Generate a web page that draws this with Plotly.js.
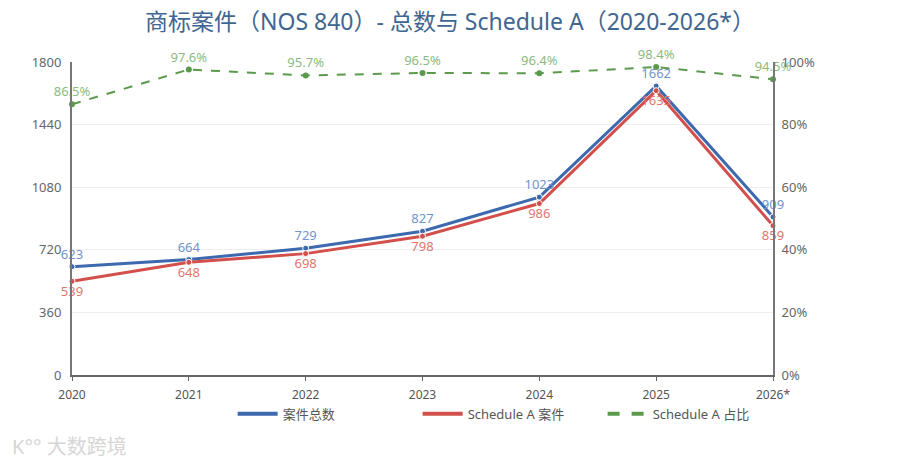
<!DOCTYPE html>
<html>
<head>
<meta charset="utf-8">
<script src="https://cdn.plot.ly/plotly-3.0.1.min.js"></script>
<style>
  html, body { margin: 0; padding: 0; background: #fff; }
  #plot { width: 900px; height: 465px; }
</style>
</head>
<body>
<div id="plot"></div>
<script>
// data
var years = ['2020', '2021', '2022', '2023', '2024', '2025', '2026*'];
var totalCases = [623, 664, 729, 827, 1023, 1662, 909];
var scheduleACases = [539, 648, 698, 798, 986, 1635, 859];
var scheduleAShare = [86.5, 97.6, 95.7, 96.5, 96.4, 98.4, 94.5];

var leftTicks = [0, 360, 720, 1080, 1440, 1800];
var rightTicks = [0, 20, 40, 60, 80, 100];

var fontFamily = '"Noto Sans", "Noto Sans CJK SC", sans-serif';

var blue = '#3d69ae', red = '#d24f4b', green = '#5b9a4d';

// blue - total
var traceTotal = {
  x: years,
  y: totalCases,
  text: totalCases.map(String),
  name: '案件总数',
  showlegend: false,
  type: 'scatter',
  mode: 'lines+markers+text',
  textposition: 'top center',
  textfont: { color: '#7094cc', size: 13, family: fontFamily },
  cliponaxis: false,
  line: { color: blue, width: 3 },
  marker: { color: blue, size: 6, line: { color: '#fff', width: 1 } }
};

// red - schedule A
var traceSchedA = {
  x: years,
  y: scheduleACases,
  text: scheduleACases.map(String),
  name: 'Schedule A 案件',
  showlegend: false,
  type: 'scatter',
  mode: 'lines+markers+text',
  textposition: 'bottom center',
  textfont: { color: '#e0766e', size: 13, family: fontFamily },
  cliponaxis: false,
  line: { color: red, width: 3 },
  marker: { color: red, size: 6, line: { color: '#fff', width: 1 } }
};

// green dashed - share, right axis
var traceShare = {
  x: years,
  y: scheduleAShare,
  text: scheduleAShare.map(v => v.toFixed(1) + '%'),
  name: 'Schedule A 占比',
  showlegend: false,
  type: 'scatter',
  mode: 'lines+markers+text',
  textposition: 'top center',
  textfont: { color: '#8bbb7e', size: 13, family: fontFamily },
  cliponaxis: false,
  yaxis: 'y2',
  line: { color: green, width: 2, dash: 'dash' },
  marker: { color: green, size: 6 }
};

// legend entries (lines only, like the reference)
function legendEntry(name, color, dash, axis) {
  return {
    x: [null], y: [null], name: name, type: 'scatter', mode: 'lines',
    yaxis: axis, hoverinfo: 'skip',
    line: { color: color, width: 4, dash: dash }
  };
}

var traces = [traceTotal, traceSchedA, traceShare,
  legendEntry('案件总数', blue, 'solid', 'y'),
  legendEntry('Schedule A 案件', red, 'solid', 'y'),
  legendEntry('Schedule A 占比', green, 'dash', 'y2')];

var layout = {
  width: 900,
  height: 465,
  paper_bgcolor: '#ffffff',
  plot_bgcolor: '#ffffff',
  margin: { l: 72, r: 127, t: 62, b: 90 },
  font: { family: fontFamily, color: '#666', size: 12 },
  title: {
    text: '商标案件（NOS 840）- 总数与 Schedule A（2020-2026*）',
    font: { family: fontFamily, size: 23, color: '#3f6690' },
    x: 0.5,
    xanchor: 'center',
    y: 0.953,
    yanchor: 'middle'
  },
  showlegend: true,
  legend: {
    orientation: 'h',
    x: 0.625,
    xanchor: 'center',
    y: -0.124,
    yanchor: 'middle',
    entrywidth: 130,
    entrywidthmode: 'pixels',
    bgcolor: 'rgba(0,0,0,0)',
    font: { size: 13, color: '#555', family: fontFamily },
    itemwidth: 40
  },
  xaxis: {
    type: 'category',
    range: [0, 6],
    showgrid: false,
    showline: true,
    linecolor: '#666',
    linewidth: 1.5,
    ticks: 'outside',
    ticklen: 4,
    tickcolor: '#666',
    ticklabelstandoff: 4,
    tickfont: { size: 12, color: '#555' },
    zeroline: false
  },
  yaxis: {
    range: [0, 1800],
    tickvals: leftTicks,
    ticktext: leftTicks.map(String),
    showgrid: true,
    gridcolor: '#eeeeee',
    showline: true,
    linecolor: '#777',
    linewidth: 2,
    zeroline: false,
    ticks: '',
    ticklabelstandoff: 6,
    tickfont: { size: 13, color: '#666' }
  },
  yaxis2: {
    overlaying: 'y',
    side: 'right',
    range: [0, 100],
    tickvals: rightTicks,
    ticktext: rightTicks.map(v => v + '%'),
    showgrid: false,
    showline: true,
    linecolor: '#777',
    linewidth: 2,
    zeroline: false,
    ticks: '',
    ticklabelstandoff: 4,
    tickfont: { size: 13, color: '#666' }
  },
  annotations: [{
    text: 'K°° 大数跨境',
    xref: 'paper', yref: 'paper',
    x: -0.088, y: -0.23,
    xanchor: 'left', yanchor: 'middle',
    showarrow: false,
    font: { size: 20, color: '#d6d6d6', family: fontFamily }
  }]
};

Plotly.newPlot('plot', traces, layout, { displayModeBar: false, responsive: false });
</script>
</body>
</html>
